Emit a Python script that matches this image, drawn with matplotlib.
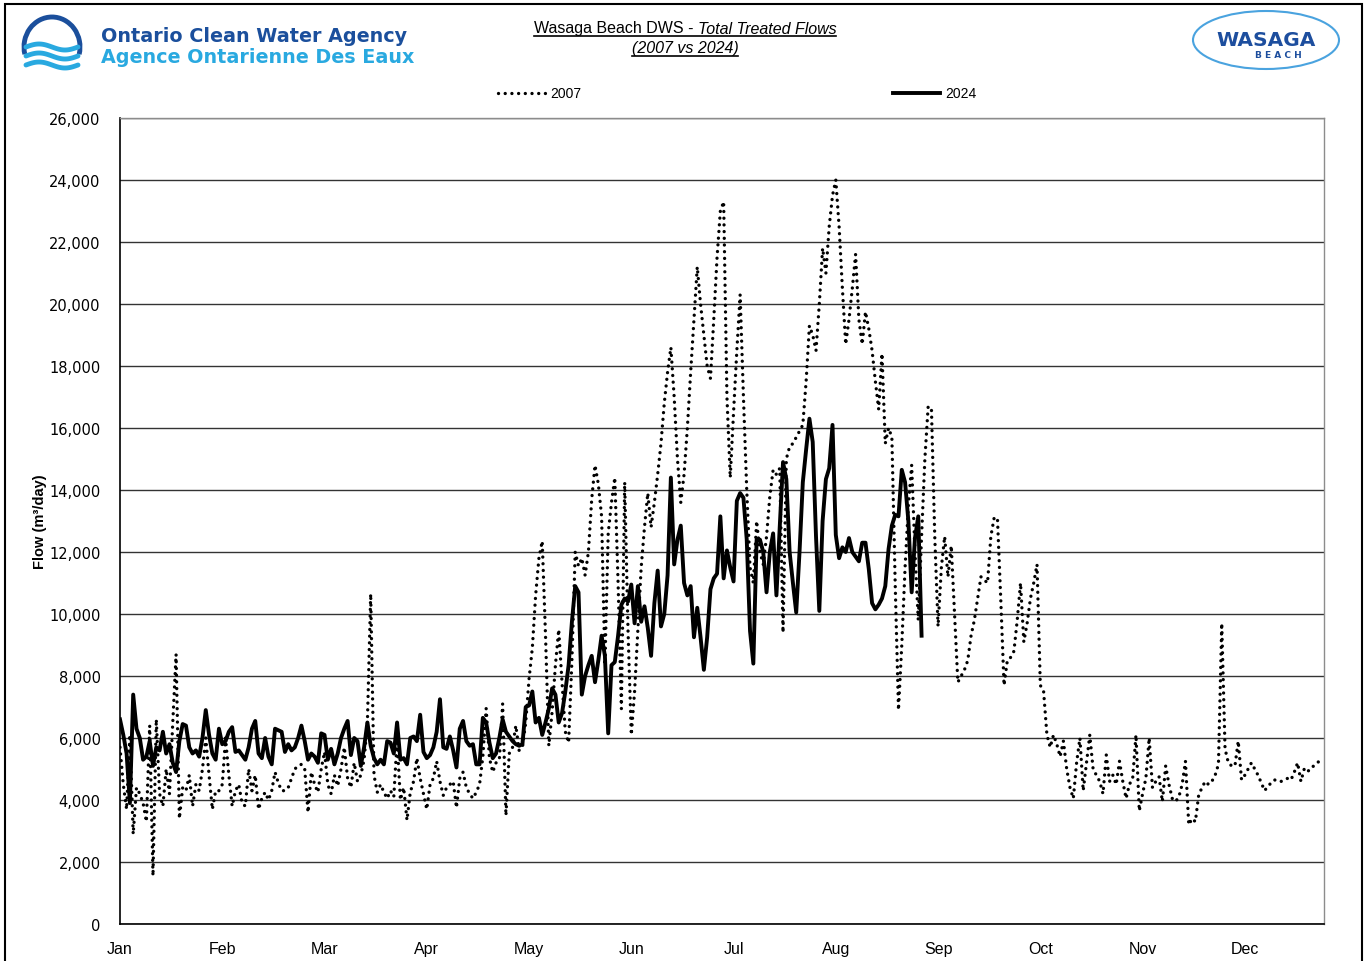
import numpy as np
import matplotlib
matplotlib.use("Agg")
import matplotlib.pyplot as plt
from matplotlib import font_manager
from matplotlib.patches import Rectangle, Ellipse, Arc
from matplotlib.lines import Line2D

# daily treated flow, m3/day (day 0 = Jan 1)
flow_2007 = [
    # Jan
    5700, 4500, 3700, 6100, 2900, 4400, 4200, 3900, 3300, 6400, 1550, 6600, 4200, 3800, 5000, 4200,
    6500, 8700, 3400, 4400, 4300, 4800, 3800, 4500, 4300, 5000, 6000, 4800, 3700, 4300, 4300,
    # Feb
    4500, 6000, 4800, 3800, 4300, 4500, 3900, 3800, 5000, 4300, 4800, 3700, 4050, 4250, 4000, 4300,
    4900, 4550, 4300, 4300, 4400, 4700, 5000, 5100, 5150, 5000, 3600, 4900, 4500, 4250, 5000,
    # Mar
    5550, 4500, 4200, 4800, 4450, 5000, 5700, 4700, 4400, 5200, 4600, 4800, 5300, 6500, 10650, 4800,
    4250, 4500, 4250, 4050, 4300, 4100, 5950, 4000, 4400, 3350, 4250, 4600, 5350, 4700, 4200,
    # Apr
    3700, 4500, 4700, 5250, 4600, 4150, 4400, 4500, 4600, 3750, 4700, 4900, 4400, 4200, 4050, 4250,
    4500, 5400, 6950, 5350, 4900, 5200, 5300, 7100, 3500, 5500, 5700, 6400, 5600, 5700, 6500,
    # May
    7900, 8900, 10600, 11800, 12350, 9300, 5750, 6850, 8350, 9500, 7800, 6200, 5850, 8500, 12000, 11550,
    11800, 11250, 12000, 13700, 14800, 14200, 13150, 8350, 12600, 13600, 14400, 11000, 6950, 14250, 9500,
    # Jun
    6100, 7500, 9500, 11500, 12800, 13900, 12800, 13600, 14500, 15500, 16800, 17800, 18600, 17000, 15000, 13600,
    14500, 16000, 17800, 19500, 21200, 20000, 19000, 18000, 17600, 19500, 21500, 23000, 23300, 17000, 14400,
    # Jul
    16500, 18500, 20300, 17000, 14000, 11500, 11000, 13000, 12000, 11600, 12500, 13800, 14650, 14500, 14700, 9400,
    15000, 15400, 15500, 15700, 15900, 16100, 17500, 19300, 19000, 18500, 20000, 21800, 21000, 22500, 23500,
    # Aug
    24000, 22500, 20500, 18700, 19500, 20500, 21600, 19500, 18700, 19750, 19200, 18500, 17500, 16600, 18400, 15500,
    16000, 15700, 11000, 6900, 9000, 11500, 13500, 14800, 12000, 9800, 12500, 15000, 16700, 16600, 12500,
    # Sep
    9600, 11500, 12500, 11200, 12200, 10000, 7800, 8000, 8200, 8500, 9300, 9800, 10500, 11200, 11100, 11000,
    12500, 13100, 13100, 10500, 7700, 8500, 8600, 8800, 9800, 11000, 9100, 9700, 10500, 11000, 11600,
    # Oct
    7700, 7500, 6100, 5700, 6100, 5800, 5400, 5900, 5000, 4400, 4050, 5200, 6000, 4300, 5200, 6100,
    5000, 4800, 4600, 4200, 5450, 4600, 4800, 4500, 5250, 4600, 4050, 4500, 4700, 6100, 3650,
    # Nov
    4200, 4700, 6000, 4400, 4600, 4750, 3950, 5100, 4500, 4050, 3950, 4100, 4500, 5250, 3200, 3400,
    3300, 4150, 4400, 4600, 4500, 4600, 4800, 5150, 9700, 5650, 5200, 5100, 5100, 5900, 4650,
    # Dec
    4800, 5000, 5200, 5000, 4800, 4550, 4300, 4450, 4550, 4650, 4600, 4600, 4650, 4700, 4650, 4900,
    5200, 4600, 5000, 4900, 5050, 5100, 5200, 5300,
]

flow_2024 = [
    # Jan
    6600, 6100, 5500, 3900, 7400, 6300, 6000, 5300, 5400, 5900, 5100, 5700, 5600, 6200, 5500, 5800,
    5200, 4900, 5900, 6450, 6400, 5700, 5500, 5600, 5400, 6000, 6900, 6100, 5500, 5300, 6300,
    # Feb
    5800, 5900, 6200, 6350, 5550, 5600, 5450, 5300, 5700, 6300, 6550, 5500, 5350, 6000, 5400, 5150,
    6300, 6250, 6200, 5550, 5800, 5600, 5700, 6000, 6400, 5900, 5300, 5500, 5400, 5200, 6150,
    # Mar
    6100, 5300, 5650, 5150, 5500, 6000, 6300, 6550, 5450, 6000, 5900, 5100, 5700, 6500, 5750,
    5350, 5150, 5300, 5150, 5900, 5850, 5500, 6500, 5300, 5350, 5150, 6000, 6050, 5900, 6750, 5550,
    # Apr
    5350, 5450, 5700, 6200, 7250, 5700, 5650, 6050, 5600, 5050, 6300, 6550, 5900, 5750, 5800, 5150,
    5150, 6650, 6500, 5850, 5350, 5500, 6000, 6600, 6200, 6050, 5900, 5800, 5750, 5800, 7000,
    # May
    7050, 7500, 6500, 6650, 6100, 6500, 6950, 7600, 7400, 6500, 6800, 7500, 8350, 9750, 10900, 10700,
    7400, 8000, 8350, 8650, 7800, 8500, 9300, 8650, 6150, 8350, 8450, 9300, 10300, 10500,
    # Jun
    10400, 10950, 9700, 10900, 9750, 10250, 9550, 8650, 10350, 11400, 9600, 10000, 11250, 14400, 11600, 12400,
    12850, 11000, 10600, 10900, 9250, 10200, 9250, 8200, 9250, 10800, 11150, 11300, 13150, 11150, 12050,
    # Jul
    11500, 11050, 13650, 13900, 13750, 12400, 9450, 8400, 12400, 12400, 12000, 10700, 12000, 12600,
    10600, 12800, 14900, 14350, 12000, 11000, 10050, 12000, 14250, 15300, 16300, 15550, 12500, 10100,
    13000, 14350, 14700,
    # Aug
    16100, 12550, 11800, 12150, 12000, 12450, 12000, 11850, 11700, 12300, 12300, 11450, 10350, 10150,
    10300, 10500, 10900, 12100, 12850, 13200, 13150, 14650, 14250, 13000, 10700, 12450, 13150, 9300,
]

month_labels = ["Jan", "Feb", "Mar", "Apr", "May", "Jun", "Jul", "Aug", "Sep", "Oct", "Nov", "Dec"]
y_ticks = list(range(0, 26001, 2000))

W, H = 1367, 962
DOTS = (0, (0.01, 2.0))


def fx(x):
    return x / W


def fy(y):
    return 1 - y / H


names = {f.name for f in font_manager.fontManager.ttflist}
narrow = "Liberation Sans Narrow" if "Liberation Sans Narrow" in names else "Liberation Sans"

fig = plt.figure(figsize=(W / 100, H / 100), dpi=100)
fig.patch.set_facecolor("white")
fig.patches.append(Rectangle((fx(5), -0.01), fx(1357), fy(5) + 0.01, transform=fig.transFigure,
                             fill=False, edgecolor="black", lw=1.5))

ax = fig.add_axes([fx(120), fy(925), fx(1324) - fx(120), fy(119) - fy(925)])
days07 = np.arange(len(flow_2007))
days24 = np.arange(len(flow_2024))
ax.plot(days07, flow_2007, color="black", lw=2.4, linestyle=DOTS, dash_capstyle="round", zorder=3)
ax.plot(days24, flow_2024, color="black", lw=2.8, zorder=4)

ax.set_xlim(0, 365)
ax.set_ylim(0, 26000)
ax.set_yticks(y_ticks)
ax.set_yticklabels([f"{v:,}" for v in y_ticks], fontsize=10.5, family="DejaVu Sans")
ax.set_xticks([31 * i for i in range(12)])
ax.set_xticklabels(month_labels, fontsize=11.5, family=narrow)
ax.tick_params(length=0, pad=12)
ax.tick_params(axis="y", pad=14)
ax.grid(axis="y", color="#333333", lw=1)
ax.set_axisbelow(True)
for s in ["top", "right"]:
    ax.spines[s].set_color("#8c8c8c")
    ax.spines[s].set_linewidth(1)
for s in ["left", "bottom"]:
    ax.spines[s].set_color("black")
    ax.spines[s].set_linewidth(1.2)

fig.text(fx(40), fy(522), "Flow (m\u00b3/day)", rotation=90, ha="center", va="center",
         fontsize=10.5, fontweight="bold", family=narrow)

# title (underlined, second part italic)
t1 = fig.text(0, fy(29), "Wasaga Beach DWS - ", fontsize=11.5, family=narrow, va="center")
t2 = fig.text(0, fy(29), "Total Treated Flows", fontsize=11.5, family=narrow, style="italic", va="center")
t3 = fig.text(fx(685), fy(49), "(2007 vs 2024)", fontsize=11.5, family=narrow, style="italic",
              va="center", ha="center")
fig.canvas.draw()
r = fig.canvas.get_renderer()
w1 = t1.get_window_extent(r).width
w2 = t2.get_window_extent(r).width
x0 = 685 - (w1 + w2) / 2
t1.set_x(fx(x0))
t2.set_x(fx(x0 + w1))
fig.add_artist(Line2D([fx(x0), fx(x0 + w1 + w2)], [fy(37), fy(37)], color="black", lw=1.2))
b3 = t3.get_window_extent(r)
fig.add_artist(Line2D([b3.x0 / W, b3.x1 / W], [fy(57), fy(57)], color="black", lw=1.2))

# legend
fig.add_artist(Line2D([fx(498), fx(545)], [fy(94), fy(94)], color="black", lw=2.4,
                      linestyle=DOTS, dash_capstyle="round"))
fig.text(fx(550), fy(94), "2007", fontsize=10, family=narrow, va="center")
fig.add_artist(Line2D([fx(893), fx(940)], [fy(94), fy(94)], color="black", lw=2.8))
fig.text(fx(945), fy(94), "2024", fontsize=10, family=narrow, va="center")

# OCWA logo
lg = fig.add_axes([fx(20), fy(78), fx(64), fy(12) - fy(78)])
lg.set_xlim(0, 64)
lg.set_ylim(0, 66)
lg.axis("off")
lg.add_patch(Arc((32, 30), 56, 60, theta1=-15, theta2=195, color="#1b4f9c", lw=3.5))
wx = np.linspace(6, 58, 60)
for yy in [30, 21, 12]:
    lg.plot(wx, yy + 3 * np.sin((wx - 6) / 52 * 2 * np.pi), color="#29a9e0", lw=3.5,
            solid_capstyle="round")
fig.text(fx(101), fy(37), "Ontario Clean Water Agency", fontsize=13.8, fontweight="bold",
         color="#1b4f9c", va="center")
fig.text(fx(101), fy(58), "Agence Ontarienne Des Eaux", fontsize=13.8, fontweight="bold",
         color="#29a9e0", va="center")

# Wasaga Beach logo
fig.patches.append(Ellipse((fx(1266), fy(41)), fx(146), 58 / H, transform=fig.transFigure,
                           fill=False, edgecolor="#4aa3df", lw=1.5))
fig.text(fx(1266), fy(40), "WASAGA", fontsize=14.5, fontweight="bold", color="#1d4e9e",
         ha="center", va="center")
fig.text(fx(1278), fy(56), "B E A C H", fontsize=6.5, fontweight="bold", color="#1d4e9e",
         ha="center", va="center")

fig.savefig("out.png", dpi=100)
